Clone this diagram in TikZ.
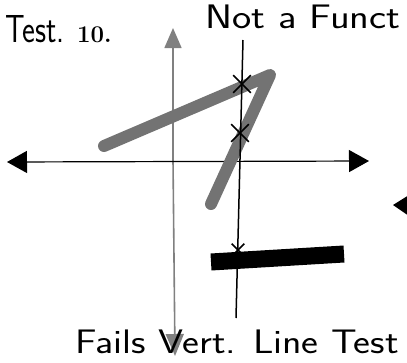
\documentclass[tikz,border=0pt]{standalone}
\usepackage{tikz}
\usetikzlibrary{positioning,arrows.meta,calc,shapes.misc}

\begin{document}
\begin{tikzpicture}[x=1pt,y=-1pt,line join=round,font=\sffamily]
  \useasboundingbox (0,0) rectangle (407,362);
  \tikzset{
    hand/.style={font=\sffamily\fontsize{34}{36}\selectfont,inner sep=0pt},
    xmark/.style={cross out,draw=black,line width=1.6pt,minimum size=16pt,inner sep=0pt},
    graph/.style={black!55,line width=12pt,line cap=round},
  }
  % titles
  \node[hand,anchor=west,xscale=0.9,yscale=1.15] (test) at (5,29) {Test.};
  \node[font=\rmfamily\bfseries\fontsize{24}{26}\selectfont,anchor=west,inner sep=0pt] (num) at (77,35) {10.};
  \node[hand,anchor=west,xscale=1.2] (note) at (205,17) {Not a Funct};
  % axes
  \coordinate (ytop) at (173,28);
  \coordinate (ybot) at (175,356);
  \coordinate (xl) at (7,162);
  \coordinate (xr) at (369,161);
  \draw[black!50,line width=1.6pt,-{Triangle[length=20pt,width=17pt]}] (173,160) -- (ytop);
  \draw[black!50,line width=1.6pt,-{Triangle[length=22pt,width=18pt]}] (173,160) -- (ybot);
  \draw[black,line width=1.2pt,{Triangle[length=20pt,width=22pt]}-{Triangle[length=20pt,width=22pt]}] (xl) -- (xr);
  % stray arrow tip at the right edge
  \fill (393,205) -- (409,195) -- (409,216) -- cycle;
  % the graph (gray strokes)
  \coordinate (g1) at (104,146);
  \coordinate (g2) at (270,75);
  \coordinate (g3) at (211,204);
  \draw[graph] (g1) -- (g2) -- (g3);
  % horizontal bar
  \coordinate (b1) at (211,262);
  \coordinate (b2) at (344,254);
  \draw[black,line width=17pt] (b1) -- (b2);
  % vertical line test
  \coordinate (vt) at (243,40);
  \coordinate (vb) at (236,318);
  \draw[black,line width=1.5pt] (vt) -- (vb);
  \node[xmark] (cut1) at (242,84) {};
  \node[xmark] (cut2) at (240,133) {};
  \node[xmark,minimum size=11pt] (cut3) at (238,250) {};
  % conclusion
  \node[hand,anchor=west,xscale=1.18] (fail) at (75,342) {Fails Vert. Line Test};
\end{tikzpicture}
\end{document}
